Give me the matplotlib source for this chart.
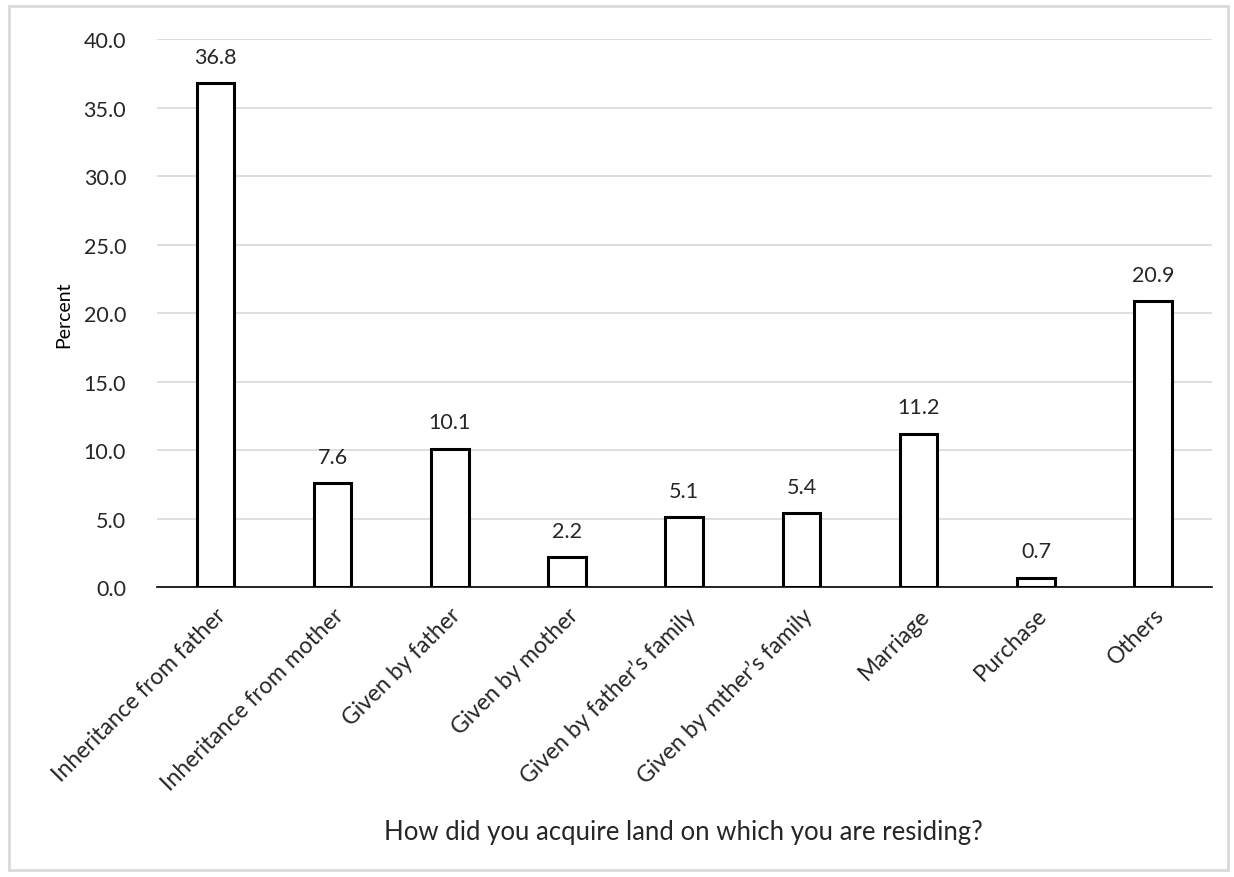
import matplotlib.pyplot as plt
from matplotlib.patches import Rectangle

plt.rcParams['font.family'] = ['Lato', 'DejaVu Sans']

categories = ["Inheritance from father", "Inheritance from mother", "Given by father",
              "Given by mother", "Given by father\u2019s family", "Given by mther\u2019s family",
              "Marriage", "Purchase", "Others"]
percent = [36.8, 7.6, 10.1, 2.2, 5.1, 5.4, 11.2, 0.7, 20.9]
yticks = [0, 5, 10, 15, 20, 25, 30, 35, 40]

fig = plt.figure(figsize=(12.34, 8.78), dpi=100)
ax = fig.add_axes([0.127, 0.330, 0.855, 0.624])

x = range(len(categories))
bars = ax.bar(x, percent, width=0.32, color="white", edgecolor="black", linewidth=2.2, zorder=3)
for b, v in zip(bars, percent):
    ax.text(b.get_x() + b.get_width() / 2, v + 1.2, f"{v:.1f}", ha="center", va="bottom",
            fontsize=15.5, color="#262626")

ax.set_xlim(-0.5, len(categories) - 0.5)
ax.set_ylim(0, 40)
ax.set_yticks(yticks)
ax.set_yticklabels([f"{t:.1f}" for t in yticks], fontsize=15.5, color="#262626")
ax.set_xticks(list(x))
ax.set_xticklabels(categories, rotation=45, ha="right", rotation_mode="anchor", fontsize=16.5,
                   color="#262626")
ax.tick_params(axis="y", length=0, pad=22)
ax.tick_params(axis="x", length=0, pad=12)
ax.yaxis.grid(True, color="#d9d9d9", linewidth=1.2, zorder=0)
for s in ["top", "right", "left"]:
    ax.spines[s].set_visible(False)
ax.spines["bottom"].set_color("black")
ax.spines["bottom"].set_linewidth(1.2)
ax.spines["bottom"].set_zorder(4)

ax.set_ylabel("Percent", fontsize=14, color="black", labelpad=8)
fig.text(0.554, 0.043, "How did you acquire land on which you are residing?", ha="center",
         fontsize=18.5, color="#262626")

fig.patches.append(Rectangle((0.007, 0.008), 0.988, 0.984, transform=fig.transFigure,
                             fill=False, edgecolor="#d9d9d9", linewidth=2))

fig.savefig("out.png", dpi=100)
